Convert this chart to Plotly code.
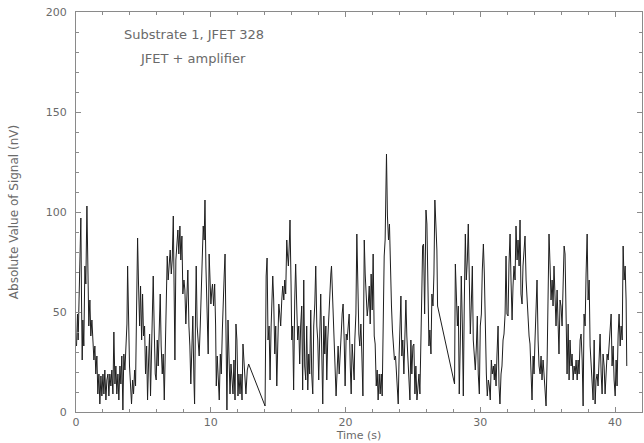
import plotly.graph_objects as go

time_s = [
    0.04, 0.11, 0.16, 0.24, 0.31, 0.36, 0.41, 0.46, 0.51, 0.58, 0.66, 0.73, 0.81, 0.88, 0.95,
    1.03, 1.10, 1.18, 1.25, 1.33, 1.40, 1.47, 1.55, 1.62, 1.70, 1.77, 1.85, 1.92, 2.00, 2.07,
    2.14, 2.22, 2.29, 2.37, 2.44, 2.51, 2.59, 2.66, 2.74, 2.81, 2.89, 2.96, 3.03, 3.11, 3.18,
    3.26, 3.33, 3.40, 3.48, 3.55, 3.63, 3.70, 3.78, 3.83, 3.90, 3.97, 4.05, 4.12, 4.20, 4.27,
    4.35, 4.42, 4.49, 4.57, 4.64, 4.72, 4.79, 4.87, 4.94, 5.01,
    5.09, 5.16, 5.24, 5.31, 5.39, 5.46, 5.53, 5.61, 5.68, 5.73, 5.80, 5.88, 5.95, 6.03, 6.10,
    6.18, 6.25, 6.32, 6.40, 6.47, 6.55, 6.62, 6.70, 6.77, 6.84, 6.92, 6.99, 7.07, 7.14, 7.22,
    7.29, 7.34, 7.41, 7.49, 7.56, 7.63, 7.71, 7.78, 7.86, 7.93, 8.01, 8.08, 8.15, 8.23, 8.30,
    8.38, 8.45, 8.52, 8.60, 8.67, 8.75, 8.80, 8.87, 8.92, 8.99, 9.07, 9.14, 9.22, 9.29, 9.37,
    9.44, 9.51, 9.57, 9.64, 9.68, 9.76, 9.81, 9.88, 9.96, 10.01, 10.08, 10.13, 10.21,
    10.29, 10.36, 10.41, 10.48, 10.56, 10.63, 10.71, 10.78, 10.86, 10.93, 11.00, 11.06, 11.13,
    11.20, 11.28, 11.35, 11.43, 11.50, 11.57, 11.65, 11.72, 11.80, 11.87, 11.94, 12.02, 12.09,
    12.17, 12.24, 12.32, 12.39, 12.46, 12.54, 12.61, 12.71, 12.81,
    14.03, 14.11, 14.18, 14.25, 14.33, 14.40, 14.48, 14.53, 14.60, 14.67, 14.75, 14.82, 14.90,
    14.97, 15.05, 15.12, 15.19, 15.27, 15.34, 15.42,
    15.49, 15.56, 15.64, 15.69, 15.76, 15.84, 15.88, 15.96, 16.01, 16.08, 16.15, 16.23, 16.30,
    16.38, 16.45, 16.53, 16.60, 16.67, 16.75, 16.82, 16.90, 16.97, 17.05, 17.12, 17.20, 17.27,
    17.34, 17.42, 17.49, 17.57, 17.64, 17.72, 17.79, 17.87, 17.94, 18.01, 18.09, 18.16, 18.24,
    18.31, 18.39, 18.46, 18.54, 18.61, 18.68, 18.76, 18.83, 18.91, 18.96, 19.03, 19.10, 19.18,
    19.25, 19.30, 19.38, 19.45, 19.53, 19.60, 19.68, 19.75, 19.82, 19.90, 19.97, 20.05, 20.12,
    20.20, 20.27, 20.35, 20.42, 20.49, 20.57, 20.64,
    20.69, 20.77, 20.84, 20.91, 20.99, 21.06, 21.14, 21.21, 21.29, 21.34, 21.39, 21.46, 21.53,
    21.61, 21.68, 21.76, 21.83, 21.90, 21.98, 22.05, 22.13, 22.20, 22.28, 22.35, 22.42, 22.50,
    22.57, 22.65, 22.72, 22.79, 22.87, 22.94, 22.99, 23.04, 23.11, 23.19, 23.26, 23.34, 23.41,
    23.48, 23.56, 23.63, 23.71, 23.78, 23.86, 23.91, 23.98, 24.06, 24.11, 24.18, 24.25, 24.33,
    24.40, 24.48, 24.55, 24.63, 24.70, 24.78, 24.85, 24.92, 25.00, 25.07, 25.15, 25.22, 25.30,
    25.37, 25.45, 25.52, 25.59, 25.67, 25.72, 25.79, 25.87,
    25.97, 26.04, 26.11, 26.19, 26.26, 26.34, 26.41, 26.49, 26.56, 26.63, 26.71, 26.78, 26.83,
    28.09, 28.15, 28.22, 28.30, 28.37, 28.44, 28.52, 28.59, 28.67, 28.74, 28.81, 28.89, 28.96,
    29.04, 29.11, 29.19, 29.26, 29.33, 29.41, 29.48, 29.56, 29.63, 29.71, 29.78, 29.85, 29.93,
    30.00, 30.08, 30.15, 30.23, 30.30, 30.37, 30.45, 30.52, 30.60, 30.67, 30.74, 30.82, 30.89,
    30.97, 31.04,
    31.09, 31.17, 31.24, 31.32, 31.39, 31.46, 31.54, 31.61, 31.69, 31.76, 31.84, 31.91, 31.98,
    32.06, 32.13, 32.21, 32.28, 32.36, 32.43, 32.50, 32.58, 32.65, 32.73, 32.80, 32.88, 32.95,
    33.02, 33.10, 33.17, 33.25, 33.32, 33.40, 33.47, 33.54, 33.62, 33.69, 33.77, 33.84, 33.92,
    33.99, 34.06, 34.14, 34.21, 34.29, 34.36, 34.44, 34.51, 34.58, 34.66, 34.73, 34.81, 34.88,
    34.96, 35.03, 35.10, 35.18, 35.25, 35.33, 35.40, 35.47, 35.55, 35.62, 35.70, 35.77, 35.84,
    35.92, 35.99, 36.07, 36.14, 36.22,
    36.29, 36.37, 36.44, 36.52, 36.59, 36.66, 36.74, 36.81, 36.89, 36.96, 37.04, 37.11, 37.19,
    37.26, 37.33, 37.41, 37.48, 37.56, 37.63, 37.70, 37.78, 37.85, 37.93, 38.00, 38.08, 38.15,
    38.22, 38.30, 38.37, 38.45, 38.52, 38.59, 38.67, 38.74, 38.82, 38.89, 38.97, 39.04, 39.11,
    39.19, 39.26, 39.34, 39.41, 39.49, 39.56, 39.63, 39.71, 39.78, 39.86, 39.93, 40.01, 40.08,
    40.15, 40.23, 40.30, 40.38, 40.45, 40.53, 40.60, 40.67, 40.75, 40.82, 40.87,
]

signal_nV = [
    33, 49, 36, 58, 78, 97, 56, 26, 46, 33, 73, 64, 103, 66, 43,
    56, 38, 46, 36, 26, 33, 19, 28, 9, 19, 4, 18, 8, 19, 9,
    21, 6, 16, 19, 8, 19, 13, 21, 9, 40, 14, 23, 9, 19, 6,
    23, 14, 28, 1, 29, 21, 33, 44, 73, 43, 23, 13, 4, 16, 9,
    21, 13, 49, 87, 64, 43, 63, 36, 59, 38,
    43, 19, 33, 6, 26, 39, 8, 33, 53, 68, 43, 19, 16, 36, 23,
    49, 59, 33, 19, 29, 6, 29, 49, 78, 66, 73, 81, 69, 76, 98,
    69, 26, 76, 86, 91, 79, 93, 76, 88, 59, 66, 61, 44, 58, 71,
    43, 33, 14, 29, 48, 16, 4, 49, 73, 43, 33, 28, 43, 61, 73,
    93, 86, 106, 73, 63, 43, 29, 79, 66, 54, 61, 64, 53,
    64, 43, 13, 28, 19, 6, 29, 19, 41, 61, 69, 79, 39,
    1, 46, 19, 9, 24, 16, 9, 26, 6, 44, 36, 8, 19,
    9, 19, 6, 34, 26, 19, 9, 21, 24,
    3, 68, 77, 36, 43, 16, 43, 58, 68, 56, 29, 43, 13,
    33, 54, 49, 43, 56, 63, 56,
    66, 59, 86, 79, 73, 86, 96, 63, 36, 43, 11, 56, 74,
    53, 36, 43, 24, 43, 53, 11, 66, 23, 16, 43, 11, 29,
    19, 51, 19, 9, 43, 54, 73, 43, 36, 16, 43, 59, 29,
    4, 48, 29, 43, 16, 36, 51, 64, 69, 73, 58, 43, 28,
    19, 8, 21, 33, 19, 33, 39, 49, 54, 36, 13, 39, 36,
    43, 49, 23, 9, 34, 23, 16,
    36, 49, 89, 56, 39, 33, 44, 29, 8, 43, 86, 69, 58,
    48, 53, 63, 44, 69, 51, 79, 38, 34, 13, 21, 6, 19,
    9, 19, 8, 46, 78, 86, 109, 129, 98, 86, 94, 61, 53,
    41, 33, 26, 28, 19, 13, 4, 29, 43, 58, 28, 36, 19,
    46, 56, 38, 26, 19, 6, 36, 19, 33, 34, 9, 23, 6,
    13, 19, 9, 29, 63, 83, 84, 49,
    101, 94, 69, 33, 41, 29, 59, 53, 69, 106, 93, 81, 53,
    14, 74, 51, 43, 53, 9, 36, 68, 43, 8, 53, 89, 66,
    76, 94, 61, 39, 53, 73, 36, 29, 21, 33, 48, 19, 9,
    43, 49, 71, 84, 69, 33, 19, 8, 16, 13, 6, 26, 19,
    23, 16,
    24, 13, 29, 43, 13, 4, 19, 23, 36, 39, 49, 78, 49,
    48, 74, 89, 66, 46, 63, 73, 66, 93, 76, 86, 73, 96,
    59, 54, 73, 81, 88, 66, 56, 53, 38, 34, 13, 6, 28,
    19, 36, 51, 66, 36, 23, 19, 28, 16, 26, 19, 9, 3,
    26, 56, 89, 73, 56, 66, 53, 73, 61, 43, 61, 38, 29,
    56, 53, 43, 66, 83,
    79, 49, 19, 44, 16, 36, 23, 29, 16, 23, 19, 26, 16,
    26, 19, 36, 39, 26, 3, 49, 43, 69, 89, 56, 66, 33,
    23, 16, 6, 36, 4, 16, 19, 13, 33, 39, 19, 9, 29,
    23, 9, 19, 29, 26, 33, 36, 49, 23, 33, 16, 8, 26,
    13, 39, 49, 33, 43, 36, 83, 66, 73, 56, 23,
]

annotation_lines = ["Substrate 1, JFET 328", "JFET + amplifier"]

GRAY = "#8a8a8a"
TXT = "#6a6a6a"
FONT = "DejaVu Sans"

fig = go.Figure()
fig.add_trace(go.Scatter(
    x=time_s, y=signal_nV, mode="lines",
    line=dict(color="#1e1e1e", width=1),
    hoverinfo="skip", showlegend=False,
))

axis_common = dict(
    showgrid=False, zeroline=False, showline=True, linecolor=GRAY, linewidth=1,
    mirror="ticks", ticks="inside", ticklen=5, tickcolor=GRAY, tickwidth=1,
    tickfont=dict(family=FONT, size=11, color=TXT),
    minor=dict(ticks="inside", ticklen=3, tickcolor=GRAY, tickwidth=1),
    automargin=False,
)

fig.update_xaxes(
    range=[0, 42], tickvals=[0, 10, 20, 30, 40], minor_dtick=2,
    title=dict(text="Time (s)", font=dict(family=FONT, size=11, color=TXT), standoff=0),
    ticklabelstandoff=0,
    **axis_common,
)
fig.update_yaxes(
    range=[0, 200], tickvals=[0, 50, 100, 150, 200], minor_dtick=10,
    title=dict(text="Absolute Value of Signal (nV)", font=dict(family=FONT, size=12, color=TXT), standoff=24),
    ticklabelstandoff=6,
    **axis_common,
)

fig.add_annotation(x=0.208, y=0.945, xref="paper", yref="paper", text=annotation_lines[0],
                   showarrow=False, font=dict(family=FONT, size=13, color=TXT),
                   xanchor="center", yanchor="middle")
fig.add_annotation(x=0.206, y=0.885, xref="paper", yref="paper", text=annotation_lines[1],
                   showarrow=False, font=dict(family=FONT, size=13, color=TXT),
                   xanchor="center", yanchor="middle")

fig.update_layout(
    width=644, height=443,
    margin=dict(l=76, r=2, t=12, b=31),
    paper_bgcolor="white", plot_bgcolor="white",
)

fig.write_html(
    "out.html",
    config={"responsive": False, "displayModeBar": False},
    post_script="document.body.style.margin='0';document.body.style.overflow='hidden';",
)
